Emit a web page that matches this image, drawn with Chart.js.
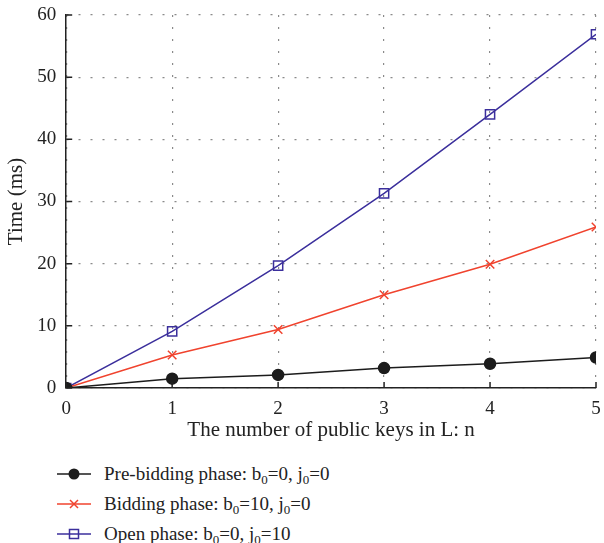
<!DOCTYPE html>
<html>
<head>
<meta charset="utf-8">
<script src="https://cdn.jsdelivr.net/npm/chart.js@4"></script>
<style>
  body { margin: 0; background: #fff; }
  #wrap { position: relative; width: 604px; height: 543px; }
  #legend { position: absolute; left: 56px; top: 459px; font-family: "Liberation Serif", serif; font-size: 19px; color: #222; }
  #legend .row { height: 30px; display: flex; align-items: center; }
  #legend svg { margin-right: 12px; }
  #legend sub { font-size: 13px; vertical-align: -4px; line-height: 0; }
</style>
</head>
<body>
<div id="wrap">
  <canvas id="myChart" width="604" height="443"></canvas>
  <div id="legend"></div>
</div>
<script>
// valores
const n = [0, 1, 2, 3, 4, 5]
const preBidding = [0, 1.5, 2.1, 3.2, 3.9, 4.9]
const bidding = [0, 5.3, 9.4, 15.0, 19.9, 25.9]
const openPhase = [0, 9.1, 19.7, 31.3, 44.0, 56.9]
const yTicks = [0, 10, 20, 30, 40, 50, 60]

const names = [
    'Pre-bidding phase: b<sub>0</sub>=0, j<sub>0</sub>=0',
    'Bidding phase: b<sub>0</sub>=10, j<sub>0</sub>=0',
    'Open phase: b<sub>0</sub>=0, j<sub>0</sub>=10'
]

const serif = 'Liberation Serif'

// marcas de escala para dentro, como no original
const innerTicks = {
    id: 'innerTicks',
    afterDraw(chart) {
        const ctx = chart.ctx
        const x = chart.scales.x, y = chart.scales.y
        ctx.save()
        ctx.strokeStyle = '#222'
        ctx.lineWidth = 1.5
        ctx.beginPath()
        n.forEach(v => {
            const px = x.getPixelForValue(v)
            ctx.moveTo(px, y.bottom)
            ctx.lineTo(px, y.bottom - 6)
        })
        yTicks.forEach(v => {
            const py = y.getPixelForValue(v)
            ctx.moveTo(x.left, py)
            ctx.lineTo(x.left + 6, py)
        })
        ctx.stroke()
        ctx.restore()
    }
}

let myChart = document.getElementById('myChart').getContext('2d')

let timeChart = new Chart(myChart, {
    type: 'line',
    data: {
        labels: n,
        datasets: [
            {
                label: 'Pre-bidding phase',
                data: preBidding,
                borderColor: '#1c1c1c',
                backgroundColor: '#1c1c1c',
                borderWidth: 1.5,
                pointStyle: 'circle',
                pointRadius: 5.5
            },
            {
                label: 'Bidding phase',
                data: bidding,
                borderColor: '#f0432e',
                backgroundColor: '#f0432e',
                borderWidth: 1.5,
                pointStyle: 'crossRot',
                pointRadius: 6,
                pointBorderWidth: 1.5
            },
            {
                label: 'Open phase',
                data: openPhase,
                borderColor: '#3b2f9c',
                backgroundColor: 'rgba(0,0,0,0)',
                borderWidth: 1.5,
                pointStyle: 'rect',
                pointRadius: 6.5,
                pointBorderWidth: 1.5
            }
        ]
    },
    options: {
        responsive: false,
        animation: false,
        layout: { padding: { top: 15, right: 0 } },
        plugins: {
            legend: { display: false },
            tooltip: { enabled: false }
        },
        scales: {
            x: {
                type: 'linear',
                min: 0,
                max: 5,
                ticks: { stepSize: 1, color: '#222', padding: 0, font: { family: serif, size: 19 } },
                grid: { color: '#8a8a8a', lineWidth: 1.2, drawTicks: true, tickLength: 10, tickColor: 'rgba(0,0,0,0)' },
                border: { color: '#222', width: 1.5, dash: [2, 10] },
                title: { display: true, text: 'The number of public keys in L: n', color: '#222',
                         font: { family: serif, size: 21 }, padding: { top: -3, bottom: 0 } }
            },
            y: {
                min: 0,
                max: 60,
                afterBuildTicks: s => { s.ticks = yTicks.map(v => ({ value: v })) },
                ticks: { color: '#222', padding: 0, font: { family: serif, size: 19 } },
                grid: { color: '#8a8a8a', lineWidth: 1.2, drawTicks: true, tickLength: 10, tickColor: 'rgba(0,0,0,0)' },
                border: { color: '#222', width: 1.5, dash: [2, 10] },
                title: { display: true, text: 'Time (ms)', color: '#222',
                         font: { family: serif, size: 21 }, padding: { top: 4, bottom: 8 } }
            }
        }
    },
    plugins: [innerTicks]
});

// legenda vertical em HTML, com subscritos
const legend = document.getElementById('legend')
timeChart.data.datasets.forEach((ds, i) => {
    const row = document.createElement('div')
    row.className = 'row'
    let mark = ''
    if (ds.pointStyle === 'circle') mark = '<circle cx="18" cy="8" r="5.5" fill="' + ds.borderColor + '"/>'
    if (ds.pointStyle === 'crossRot') mark = '<path d="M14 4 L22 12 M22 4 L14 12" stroke="' + ds.borderColor + '" stroke-width="1.5"/>'
    if (ds.pointStyle === 'rect') mark = '<rect x="13.5" y="3.5" width="9" height="9" fill="none" stroke="' + ds.borderColor + '" stroke-width="1.5"/>'
    row.innerHTML = '<svg width="36" height="16"><line x1="1" y1="8" x2="35" y2="8" stroke="' + ds.borderColor + '" stroke-width="1.5"/>' + mark + '</svg><span>' + names[i] + '</span>'
    legend.appendChild(row)
})
</script>
</body>
</html>
